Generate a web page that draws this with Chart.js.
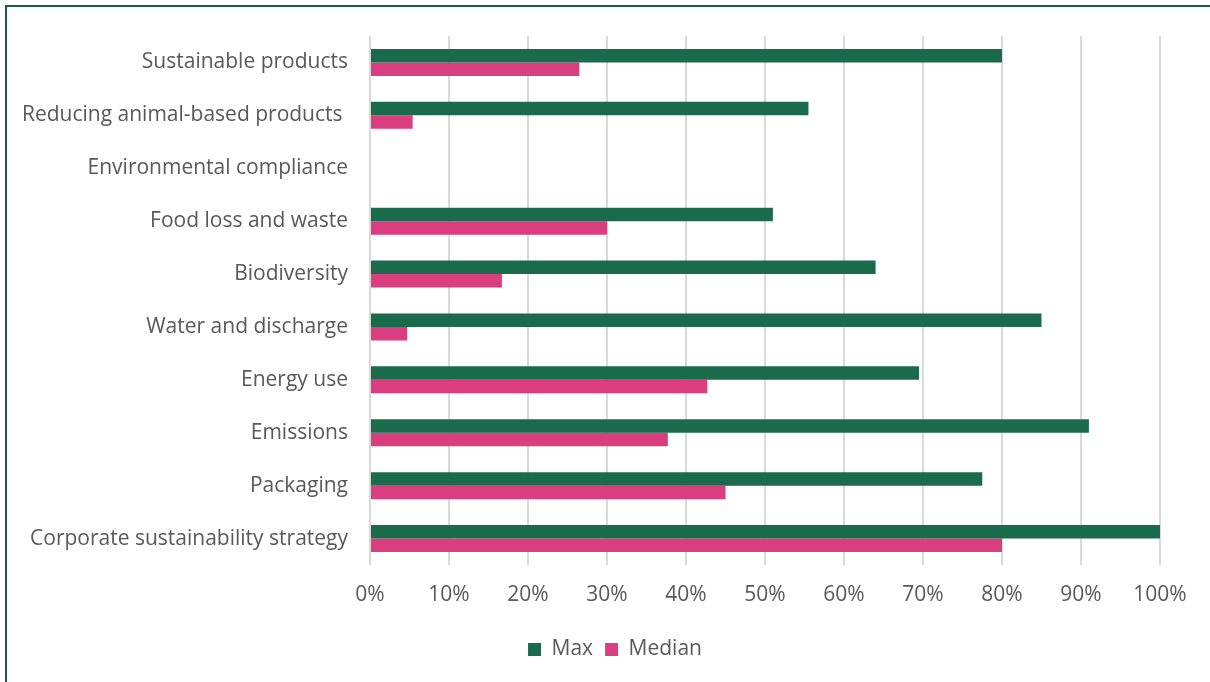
<!DOCTYPE html>
<html>
<head>
<meta charset="utf-8">
<script src="https://cdn.jsdelivr.net/npm/chart.js@4"></script>
<style>
  html, body { margin: 0; padding: 0; background: #fff; overflow: hidden; }
  #wrap { position: relative; width: 1210px; height: 682px; }
  #frame {
    position: absolute; left: 5px; top: 5px; width: 1220px; height: 700px;
    border-left: 2px solid #1b5a46; border-top: 2px solid #1b5a46;
    box-sizing: border-box; pointer-events: none;
  }
  canvas { position: absolute; left: 0; top: 0; }
</style>
</head>
<body>
<div id="wrap">
  <canvas id="topicChart" width="1210" height="682"></canvas>
  <div id="frame"></div>
</div>
<script>
// Topic coverage, max vs median share
const topics = [
  'Sustainable products',
  'Reducing animal-based products ',
  'Environmental compliance',
  'Food loss and waste',
  'Biodiversity',
  'Water and discharge',
  'Energy use',
  'Emissions',
  'Packaging',
  'Corporate sustainability strategy'
];
const maxValues = [80, 55.5, 0, 51, 64, 85, 69.5, 91, 77.5, 100];
const medianValues = [26.5, 5.4, 0, 30, 16.7, 4.7, 42.7, 37.7, 45, 80];

const textColor = '#595959';
const font = { family: '"Open Sans", sans-serif', size: 21 };

// centre the legend on the whole frame instead of the padded area
const legendShift = {
    id: 'legendShift',
    afterLayout(chart) {
        const lg = chart.legend;
        lg.left += 35; lg.right += 35;
        lg.top += 3; lg.bottom += 3;
    }
};

new Chart(document.getElementById('topicChart'), {
    type: 'bar',
    data: {
        labels: topics,
        datasets: [
            {
                label: 'Max',
                data: maxValues,
                backgroundColor: '#1a6b4b',
                categoryPercentage: 0.51,
                barPercentage: 1
            },
            {
                label: 'Median',
                data: medianValues,
                backgroundColor: '#db3e7e',
                categoryPercentage: 0.51,
                barPercentage: 1
            }
        ]
    },
    options: {
        indexAxis: 'y',
        responsive: false,
        animation: false,
        layout: { padding: { top: 36, right: 50, bottom: 15, left: 0 } },
        scales: {
            x: {
                min: 0,
                max: 100,
                ticks: {
                    stepSize: 10,
                    color: textColor,
                    font: font,
                    padding: 17,
                    callback: v => v + '%'
                },
                grid: { color: '#d9d9d9', lineWidth: 2, drawTicks: false },
                border: { display: false },
                afterFit: axis => { axis.height = 59; }
            },
            y: {
                ticks: { color: textColor, font: font, padding: 22 },
                grid: { display: false, drawTicks: false },
                border: { display: false },
                afterFit: axis => { axis.width = 370; }
            }
        },
        plugins: {
            legend: {
                position: 'bottom',
                labels: {
                    color: textColor,
                    font: font,
                    boxWidth: 13,
                    boxHeight: 13,
                    padding: 12
                }
            },
            tooltip: { enabled: false }
        }
    },
    plugins: [legendShift]
});
</script>
</body>
</html>
